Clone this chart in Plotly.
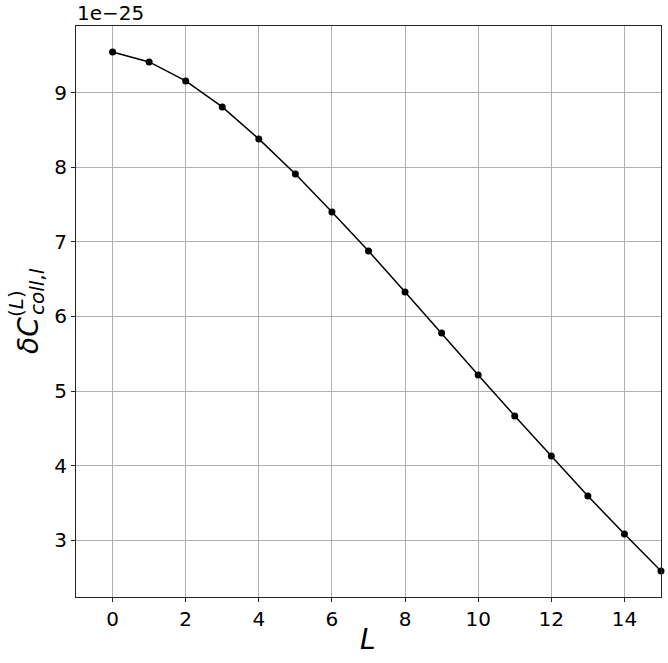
import plotly.graph_objects as go

# Data (y values in units of 1e-25)
L_vals = list(range(16))
dC_vals = [9.550, 9.416, 9.161, 8.812, 8.383, 7.913, 7.403, 6.879,
           6.329, 5.779, 5.215, 4.664, 4.128, 3.591, 3.081, 2.584]
x_ticks = [0, 2, 4, 6, 8, 10, 12, 14]
y_ticks = [3, 4, 5, 6, 7, 8, 9]
offset_label = "1e\u221225"

W, H = 668, 663
ml, mr, mt, mb = 76, 7, 26, 66
pw, ph = W - ml - mr, H - mt - mb

span = max(dC_vals) - min(dC_vals)
y_range = [min(dC_vals) - 0.05 * span, max(dC_vals) + 0.05 * span]

font = "DejaVu Sans"

fig = go.Figure()
fig.add_trace(go.Scatter(
    x=L_vals, y=dC_vals, mode="lines+markers",
    line=dict(color="black", width=1.5),
    marker=dict(color="black", size=7),
    showlegend=False, cliponaxis=False,
))

def px(xp):
    return (xp - ml) / pw

def py(yp):
    return (H - mb - yp) / ph

annotations = [
    dict(text=offset_label, xref="paper", yref="paper", x=0, y=1,
         xanchor="left", yanchor="bottom", showarrow=False, xshift=-1, yshift=-1,
         font=dict(family=font, size=20, color="black")),
    dict(text="<i>L</i>", xref="paper", yref="paper", x=px(368), y=py(640),
         xanchor="center", yanchor="middle", showarrow=False,
         font=dict(family=font, size=28, color="black")),
    dict(text="<i>δC</i>", xref="paper", yref="paper", x=px(28), y=py(336),
         xanchor="center", yanchor="middle", showarrow=False, textangle=-90,
         font=dict(family=font, size=28, color="black")),
    dict(text="(<i>L</i>)", xref="paper", yref="paper", x=px(16), y=py(304),
         xanchor="center", yanchor="middle", showarrow=False, textangle=-90,
         font=dict(family=font, size=20, color="black")),
    dict(text="<i>coll</i>,<i>l</i>", xref="paper", yref="paper", x=px(37), y=py(292),
         xanchor="center", yanchor="middle", showarrow=False, textangle=-90,
         font=dict(family=font, size=20, color="black")),
]

axis_common = dict(
    showgrid=True, gridcolor="#b0b0b0", gridwidth=1,
    showline=True, linecolor="#262626", linewidth=1, mirror=True,
    ticks="outside", ticklen=4, tickcolor="#262626", tickwidth=1,
    zeroline=False, tickfont=dict(family=font, size=20, color="black"),
)

fig.update_layout(
    width=W, height=H,
    margin=dict(l=ml, r=mr, t=mt, b=mb, pad=0),
    paper_bgcolor="white", plot_bgcolor="white",
    xaxis=dict(range=[-1, 15], tickvals=x_ticks, automargin=False, **axis_common),
    yaxis=dict(range=y_range, tickvals=y_ticks, automargin=False, **axis_common),
    annotations=annotations,
)

fig.write_html(
    "out.html",
    config={"displayModeBar": False},
    post_script="document.body.style.margin='0';document.body.style.padding='0';document.documentElement.style.overflow='hidden';",
)
